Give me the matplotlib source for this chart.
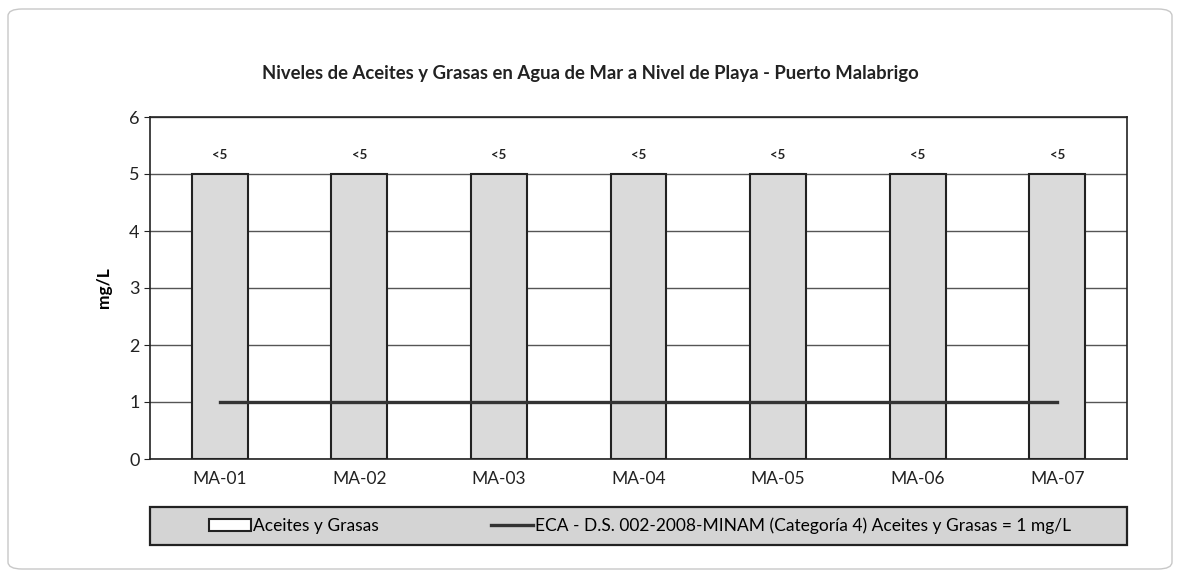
import matplotlib.pyplot as plt
from matplotlib.patches import FancyBboxPatch, Rectangle

plt.rcParams['font.family'] = ['Lato', 'DejaVu Sans']

# Data
stations = ['MA-01', 'MA-02', 'MA-03', 'MA-04', 'MA-05', 'MA-06', 'MA-07']
aceites = [5, 5, 5, 5, 5, 5, 5]
bar_labels = ['<5'] * 7
eca_limit = [1, 1, 1, 1, 1, 1, 1]

W, H = 1180, 577
fig = plt.figure(figsize=(W / 100, H / 100), dpi=100)
ax = fig.add_axes([150 / W, 1 - 459 / H, 977 / W, 342 / H])

# Outer rounded frame
frame = FancyBboxPatch((8 / W, 8 / H), 1164 / W, 560 / H,
                       boxstyle='round,pad=0,rounding_size=0.012',
                       transform=fig.transFigure, fill=False,
                       edgecolor='#c8c8c8', linewidth=1.0)
fig.patches.append(frame)

# Legend box
legbox = Rectangle((150 / W, 1 - 545 / H), 977 / W, 38 / H,
                   transform=fig.transFigure, facecolor='#d4d4d4',
                   edgecolor='#222222', linewidth=1.6)
fig.patches.append(legbox)

x = list(range(len(stations)))
bars = ax.bar(x, aceites, width=0.4, color='#dadada', edgecolor='#222222',
              linewidth=1.5, label='Aceites y Grasas', zorder=2)
line, = ax.plot(x, eca_limit, color='#333333', linewidth=2.4, zorder=3,
                label='ECA - D.S. 002-2008-MINAM (Categoría 4) Aceites y Grasas = 1 mg/L')

for xi, v, lab in zip(x, aceites, bar_labels):
    ax.text(xi, v + 0.33, lab, ha='center', va='center', fontsize=9.5,
            fontweight='bold', color='#222222')

ax.set_xlim(-0.5, len(stations) - 0.5)
ax.set_ylim(0, 6)
ax.set_yticks(range(0, 7))
ax.set_xticks(x)
ax.set_xticklabels(stations)
ax.tick_params(axis='x', length=0, labelsize=12.5, pad=9, colors='#222222')
ax.tick_params(axis='y', length=4, labelsize=13, colors='#222222')
ax.yaxis.grid(True, color='#555555', linewidth=1.0, zorder=0)
ax.set_axisbelow(True)
for s in ax.spines.values():
    s.set_color('#222222')
    s.set_linewidth(1.2)
ax.set_ylabel('mg/L', fontsize=12.5, fontweight='bold', labelpad=12)

fig.text(0.5, 1 - 73 / H,
         'Niveles de Aceites y Grasas en Agua de Mar a Nivel de Playa - Puerto Malabrigo',
         ha='center', va='center', fontsize=13.3, fontweight='bold', color='#222222')

leg = fig.legend([bars, line], [bars.get_label(), line.get_label()],
                 loc='center', ncol=2,
                 bbox_to_anchor=(640 / W, 1 - 526 / H),
                 fontsize=12.5, frameon=False,
                 handlelength=2.4, handletextpad=0.1, columnspacing=6.5)
leg.legend_handles[0].set_facecolor('white')

fig.savefig('out.png', dpi=100)
